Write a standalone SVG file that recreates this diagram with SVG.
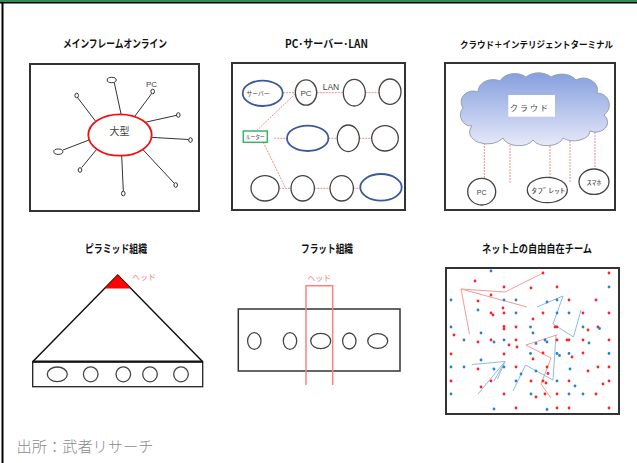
<svg xmlns="http://www.w3.org/2000/svg" width="637" height="463" viewBox="0 0 637 463">
<style>
.t{font-family:"Noto Sans CJK JP","Liberation Sans",sans-serif;font-weight:bold;font-size:11px;fill:#111;text-anchor:middle}
.s{font-family:"Liberation Sans","Noto Sans CJK JP",sans-serif;fill:#444;text-anchor:middle}
.box{fill:none;stroke:#333;stroke-width:2}
.sp{stroke:#333;stroke-width:1}
.nd{fill:#fff;stroke:#333;stroke-width:1}
.c{fill:#fff;stroke:#444;stroke-width:1.3}
.bl{fill:#fff;stroke:#3a5a9a;stroke-width:1.8}
.pk{stroke:#f48a8a;stroke-width:1;stroke-dasharray:2 1;fill:none}
.rl{stroke:#f59a9a;stroke-width:1;fill:none}
.bll{stroke:#8fbbe3;stroke-width:1;fill:none}
.r{fill:#ff2222}
.b{fill:#2a80d4}
.h{font-family:"Noto Sans CJK JP",sans-serif;font-size:8px;fill:#f08080;text-anchor:middle}
</style>
<defs>
<linearGradient id="cg" x1="0" y1="0" x2="0" y2="1">
<stop offset="0" stop-color="#859fdf"/>
<stop offset="1" stop-color="#e6e9f8"/>
</linearGradient>
</defs>
<rect x="0" y="0" width="637" height="463" fill="#fff"/>
<rect x="0" y="0" width="637" height="2" fill="#2e8b57"/>
<rect x="0" y="2" width="637" height="1.5" fill="#000"/>
<rect x="1.5" y="2" width="2" height="461" fill="#000"/>

<!-- Titles -->
<text class="t" x="115" y="48" textLength="104" lengthAdjust="spacingAndGlyphs">メインフレームオンライン</text>
<text class="t" x="326.5" y="48" textLength="83" lengthAdjust="spacingAndGlyphs">PC･サーバー･LAN</text>
<text class="t" x="536.5" y="48" textLength="153" lengthAdjust="spacingAndGlyphs" style="font-size:9.3px">クラウド＋インテリジェントターミナル</text>
<text class="t" x="116" y="253" textLength="62" lengthAdjust="spacingAndGlyphs">ピラミッド組織</text>
<text class="t" x="327" y="253" textLength="52" lengthAdjust="spacingAndGlyphs">フラット組織</text>
<text class="t" x="537" y="253" textLength="110" lengthAdjust="spacingAndGlyphs">ネット上の自由自在チーム</text>

<!-- Panel 1: mainframe -->
<g id="panel1">
<rect class="box" x="30" y="64" width="169" height="147"/>
<g id="p1-connectors">
<line class="sp" x1="114.3" y1="82.7" x2="121.7" y2="117"/>
<line class="sp" x1="151.7" y1="93.5" x2="133.3" y2="118.3"/>
<line class="sp" x1="77.5" y1="97.5" x2="96.7" y2="122.7"/>
<line class="sp" x1="176.7" y1="115.3" x2="143.3" y2="122.7"/>
<line class="sp" x1="188.3" y1="139.5" x2="150.7" y2="137.3"/>
<line class="sp" x1="174" y1="183" x2="143.3" y2="150"/>
<line class="sp" x1="123.3" y1="191" x2="121.7" y2="156"/>
<line class="sp" x1="81.7" y1="167.5" x2="96.7" y2="149.3"/>
<line class="sp" x1="63" y1="150" x2="89" y2="140"/>
</g>
<g id="mainframe"><ellipse cx="120" cy="135" rx="31.7" ry="20.7" fill="#fff" stroke="#ee1111" stroke-width="1.8"/>
<text class="s" x="119.5" y="135" font-size="10" fill="#333">大型</text></g>
<ellipse class="nd" cx="111.7" cy="80" rx="4.5" ry="2.7"/>
<ellipse class="nd" cx="152.7" cy="91.5" rx="1.8" ry="2.3"/>
<text class="s" x="151.5" y="86.5" font-size="8" fill="#3a3050">PC</text>
<ellipse class="nd" cx="76.7" cy="95.5" rx="1.8" ry="2.3"/>
<ellipse class="nd" cx="178.3" cy="115" rx="1.8" ry="2.3"/>
<ellipse class="nd" cx="190.5" cy="140" rx="1.8" ry="2.3"/>
<ellipse class="nd" cx="175.7" cy="185" rx="1.8" ry="2.3"/>
<ellipse class="nd" cx="123.3" cy="193.5" rx="1.8" ry="2.3"/>
<ellipse class="nd" cx="80" cy="170" rx="1.8" ry="2.3"/>
<ellipse class="nd" cx="58.3" cy="151.7" rx="4.5" ry="2.7"/>
</g>

<!-- Panel 2: PC server LAN -->
<g id="panel2">
<rect class="box" x="232" y="63" width="173" height="147"/>
<g id="p2-connectors">
<line class="pk" x1="283" y1="92.7" x2="295.5" y2="92.7"/>
<line class="pk" x1="316.7" y1="92.7" x2="343.3" y2="92.7"/>
<line class="pk" x1="365.5" y1="92.7" x2="379" y2="92.7"/>
<line class="pk" x1="256.7" y1="130.5" x2="295.7" y2="93.5"/>
<line class="pk" x1="263.3" y1="142.3" x2="285" y2="187"/>
<line class="pk" x1="274.3" y1="138.3" x2="287" y2="138.3"/>
<line class="pk" x1="328.4" y1="138.3" x2="337.3" y2="138.3"/>
<line class="pk" x1="359.3" y1="138.3" x2="371.7" y2="138.3"/>
<line class="pk" x1="279" y1="188.3" x2="291" y2="188.3"/>
<line class="pk" x1="314.4" y1="188.3" x2="330" y2="188.3"/>
<line class="pk" x1="353.4" y1="188.3" x2="360.5" y2="188.3"/>
</g>
<g id="server"><ellipse class="bl" cx="262.7" cy="93.3" rx="20" ry="12.7"/>
<text class="s" x="258" y="95.5" font-size="6.5" fill="#666" textLength="23" lengthAdjust="spacingAndGlyphs">サーバー</text></g>
<g id="pc"><ellipse class="c" cx="306" cy="92.5" rx="10.7" ry="12.7"/>
<text class="s" x="306" y="95.5" font-size="8" fill="#444">PC</text></g>
<text class="s" x="331" y="89.5" font-size="8.5" fill="#333">LAN</text>
<ellipse class="c" cx="354.3" cy="92.7" rx="11" ry="13.3"/>
<ellipse class="c" cx="390" cy="91.7" rx="11" ry="12.7"/>
<g id="router"><rect x="243.3" y="131" width="24" height="11.3" fill="#fff" stroke="#33b86a" stroke-width="1.5"/>
<text class="s" x="255.3" y="139.3" font-size="6" fill="#666" textLength="19" lengthAdjust="spacingAndGlyphs">ルーター</text></g>
<ellipse class="bl" cx="307.7" cy="138.3" rx="20.7" ry="12.7"/>
<ellipse class="c" cx="348.3" cy="138.3" rx="11" ry="13.3"/>
<ellipse class="c" cx="385" cy="138.3" rx="13.3" ry="12.7"/>
<ellipse class="c" cx="265" cy="188.3" rx="14" ry="12.7"/>
<ellipse class="c" cx="302.7" cy="188.3" rx="11.7" ry="12.7"/>
<ellipse class="c" cx="341.7" cy="188.3" rx="11.7" ry="12.7"/>
<ellipse class="bl" cx="381" cy="187.3" rx="20.7" ry="13.3"/>
</g>

<!-- Panel 3: cloud -->
<g id="panel3">
<rect class="box" x="445" y="63" width="170" height="147"/>
<g id="p3-connectors">
<line class="pk" x1="484.3" y1="131" x2="484.3" y2="178"/>
<line class="pk" x1="510" y1="136" x2="510" y2="183.5"/>
<line class="pk" x1="550" y1="137" x2="550" y2="177"/>
<line class="pk" x1="570" y1="132" x2="570" y2="182"/>
<line class="pk" x1="595" y1="120" x2="595" y2="169"/>
</g>
<g id="cloud">
<path d="M472,126 A11,11 0 0 1 463,108 A12,11 0 0 1 478,92 A15,12 0 0 1 500,81 A16,12 0 0 1 526,77 A16,11 0 0 1 551,77 A16,11 0 0 1 576,80 A14,12 0 0 1 597,93 A12,12 0 0 1 604,115 A12,10 0 0 1 590,131 A16,10 0 0 1 563,138 A16,10 0 0 1 533,140 A16,10 0 0 1 503,138 A15,10 0 0 1 472,126 Z" fill="url(#cg)" stroke="#9aa0b4" stroke-width="1"/>
<rect x="508.3" y="95" width="46.7" height="21.7" fill="#fff"/>
<text class="s" x="530" y="111" font-size="8" fill="#666" letter-spacing="2">クラウド</text>
</g>
<g id="pc3"><ellipse class="c" cx="481.7" cy="191.7" rx="14" ry="13.3"/>
<text class="s" x="481.7" y="194.5" font-size="7" fill="#444">PC</text></g>
<g id="tablet"><ellipse class="c" cx="547.3" cy="190" rx="20" ry="12.7"/>
<text class="s" x="548.5" y="193" font-size="7" fill="#555" textLength="34" lengthAdjust="spacingAndGlyphs">ﾀﾌﾞﾚｯﾄ</text></g>
<g id="smartphone"><ellipse class="c" cx="594" cy="181.7" rx="15" ry="12.7"/>
<text class="s" x="594" y="184.5" font-size="7" fill="#555" textLength="15" lengthAdjust="spacingAndGlyphs">ｽﾏﾎ</text></g>
</g>

<!-- Panel 4: pyramid -->
<g id="panel4">
<polyline points="32.7,361.7 117.7,275 202.7,361.7" fill="none" stroke="#111" stroke-width="1.5"/>
<polygon points="117.7,275 104.7,288.5 130.7,288.5" fill="#ff0000"/>
<text class="h" x="144" y="280">ヘッド</text>
<rect x="32.7" y="361.7" width="170" height="25" fill="none" stroke="#222" stroke-width="1.3"/>
<line x1="32.7" y1="361.7" x2="202.7" y2="361.7" stroke="#111" stroke-width="2.2"/>
<ellipse class="c" cx="57.3" cy="374.3" rx="10" ry="7.3"/>
<ellipse class="c" cx="90.7" cy="374.3" rx="7.3" ry="7.5"/>
<ellipse class="c" cx="123.3" cy="374.3" rx="7.3" ry="7.5"/>
<ellipse class="c" cx="150" cy="374.3" rx="7.3" ry="7.5"/>
<ellipse class="c" cx="181" cy="374.3" rx="7.3" ry="7.5"/>
</g>

<!-- Panel 5: flat -->
<g id="panel5">
<rect x="238.3" y="309" width="161.7" height="62" fill="none" stroke="#333" stroke-width="1.5"/>
<ellipse class="c" cx="254.3" cy="341" rx="6.7" ry="8.3"/>
<ellipse class="c" cx="290" cy="341" rx="6.7" ry="8.3"/>
<ellipse class="c" cx="320.7" cy="341" rx="10" ry="7.7"/>
<ellipse class="c" cx="349.3" cy="341" rx="6.7" ry="8"/>
<ellipse class="c" cx="377.7" cy="341" rx="10" ry="7.3"/>
<path d="M306,385 V285.7 H332.7 V385" fill="none" stroke="#ff8080" stroke-width="1.5"/>
<text class="h" x="319.3" y="280.5">ヘッド</text>
</g>

<!-- Panel 6: free team -->
<g id="panel6">
<rect class="box" x="446" y="268" width="173" height="146"/>
<g id="p6-connectors">
<path class="rl" d="M543,273 L505,292 L461,289 L469.5,334 M461,289 L527,307"/>
<path class="rl" d="M557.5,334.7 L526,345 L551,358 L541,384 L551,398"/>
<path class="bll" d="M537,307 L563,296 L553,324 L573.5,337 L581,310"/>
<path class="bll" d="M513,391 L525.5,365 L553,380 L556,335"/>
<path class="bll" d="M505,361.5 L472,364.5 M505,361.5 L478,394 M505,361.5 L494,381 M505,361.5 L497.5,379"/>
</g>
<g id="dots-red" class="r">
<circle cx="475" cy="281" r="1.4"/><circle cx="504" cy="287" r="1.4"/><circle cx="531" cy="288" r="1.4"/><circle cx="491" cy="295" r="1.4"/>
<circle cx="478" cy="301" r="1.4"/><circle cx="503" cy="308" r="1.4"/><circle cx="491" cy="313" r="1.4"/><circle cx="493" cy="315" r="1.4"/>
<circle cx="504" cy="313" r="1.4"/><circle cx="533" cy="319" r="1.4"/><circle cx="504" cy="326.5" r="1.4"/><circle cx="504" cy="329" r="1.4"/>
<circle cx="516" cy="327" r="1.4"/><circle cx="454" cy="335" r="1.4"/><circle cx="478" cy="342" r="1.4"/><circle cx="491" cy="340" r="1.4"/>
<circle cx="516" cy="340" r="1.4"/><circle cx="509" cy="345" r="1.4"/><circle cx="517" cy="347" r="1.4"/><circle cx="451" cy="354" r="1.4"/>
<circle cx="504" cy="354" r="1.4"/><circle cx="478" cy="369" r="1.4"/><circle cx="516" cy="367" r="1.4"/><circle cx="451" cy="381" r="1.4"/>
<circle cx="491" cy="381" r="1.4"/><circle cx="481" cy="387" r="1.4"/><circle cx="504" cy="394" r="1.4"/><circle cx="516" cy="408" r="1.4"/>
<circle cx="543" cy="273" r="1.4"/><circle cx="609" cy="273" r="1.4"/><circle cx="557" cy="287" r="1.4"/><circle cx="569" cy="300" r="1.4"/>
<circle cx="596" cy="300" r="1.4"/><circle cx="543" cy="313" r="1.4"/><circle cx="583" cy="313" r="1.4"/><circle cx="609" cy="313" r="1.4"/>
<circle cx="555" cy="327" r="1.4"/><circle cx="557" cy="327" r="1.4"/><circle cx="588" cy="330" r="1.4"/><circle cx="598" cy="327" r="1.4"/>
<circle cx="557" cy="340" r="1.4"/><circle cx="567" cy="340" r="1.4"/><circle cx="569" cy="340" r="1.4"/><circle cx="583" cy="340" r="1.4"/>
<circle cx="609" cy="340" r="1.4"/><circle cx="543" cy="353" r="1.4"/><circle cx="583" cy="353" r="1.4"/><circle cx="572" cy="357" r="1.4"/>
<circle cx="533" cy="359" r="1.4"/><circle cx="547" cy="367" r="1.4"/><circle cx="588" cy="371" r="1.4"/><circle cx="598" cy="367" r="1.4"/>
<circle cx="609" cy="367" r="1.4"/><circle cx="548" cy="373.5" r="1.4"/><circle cx="531" cy="381" r="1.4"/><circle cx="543" cy="381" r="1.4"/>
<circle cx="546" cy="383" r="1.4"/><circle cx="569" cy="381" r="1.4"/><circle cx="603" cy="384" r="1.4"/><circle cx="609" cy="381" r="1.4"/>
<circle cx="545" cy="394" r="1.4"/><circle cx="557" cy="394" r="1.4"/><circle cx="596" cy="394" r="1.4"/><circle cx="536" cy="397" r="1.4"/>
<circle cx="557" cy="408" r="1.4"/><circle cx="569" cy="408" r="1.4"/><circle cx="609" cy="408" r="1.4"/>
</g>
<g id="dots-blue" class="b">
<circle cx="491" cy="271" r="1.4"/><circle cx="451" cy="300" r="1.4"/><circle cx="504" cy="300" r="1.4"/><circle cx="516" cy="300" r="1.4"/>
<circle cx="478" cy="310" r="1.4"/><circle cx="516" cy="313" r="1.4"/><circle cx="451" cy="327" r="1.4"/><circle cx="530.5" cy="327" r="1.4"/>
<circle cx="481" cy="333" r="1.4"/><circle cx="533" cy="333" r="1.4"/><circle cx="464" cy="340" r="1.4"/><circle cx="494" cy="342" r="1.4"/>
<circle cx="504" cy="340" r="1.4"/><circle cx="481" cy="360" r="1.4"/><circle cx="451" cy="367" r="1.4"/><circle cx="464" cy="367" r="1.4"/>
<circle cx="494" cy="369" r="1.4"/><circle cx="504" cy="367" r="1.4"/><circle cx="521" cy="374" r="1.4"/><circle cx="516" cy="381" r="1.4"/>
<circle cx="451" cy="394" r="1.4"/><circle cx="494" cy="409" r="1.4"/>
<circle cx="609" cy="287" r="1.4"/><circle cx="547" cy="302" r="1.4"/><circle cx="557" cy="300" r="1.4"/><circle cx="557" cy="313" r="1.4"/>
<circle cx="569" cy="313" r="1.4"/><circle cx="583" cy="327" r="1.4"/><circle cx="599.5" cy="328.5" r="1.4"/><circle cx="536" cy="343.5" r="1.4"/>
<circle cx="545" cy="340" r="1.4"/><circle cx="547" cy="342" r="1.4"/><circle cx="589" cy="343" r="1.4"/><circle cx="530.5" cy="353.5" r="1.4"/>
<circle cx="557" cy="353.5" r="1.4"/><circle cx="559.5" cy="355.5" r="1.4"/><circle cx="569" cy="353.5" r="1.4"/><circle cx="609" cy="353.5" r="1.4"/>
<circle cx="570" cy="369" r="1.4"/><circle cx="536" cy="371" r="1.4"/><circle cx="557" cy="381" r="1.4"/><circle cx="575" cy="386" r="1.4"/>
<circle cx="531" cy="394" r="1.4"/><circle cx="569" cy="394" r="1.4"/><circle cx="583" cy="394" r="1.4"/><circle cx="547" cy="409.5" r="1.4"/>
</g>
</g>

<text x="16.5" y="452" font-family="Noto Sans CJK JP, sans-serif" font-weight="300" font-size="15" fill="#8a8a8a" textLength="137" lengthAdjust="spacingAndGlyphs">出所：武者リサーチ</text>
</svg>
